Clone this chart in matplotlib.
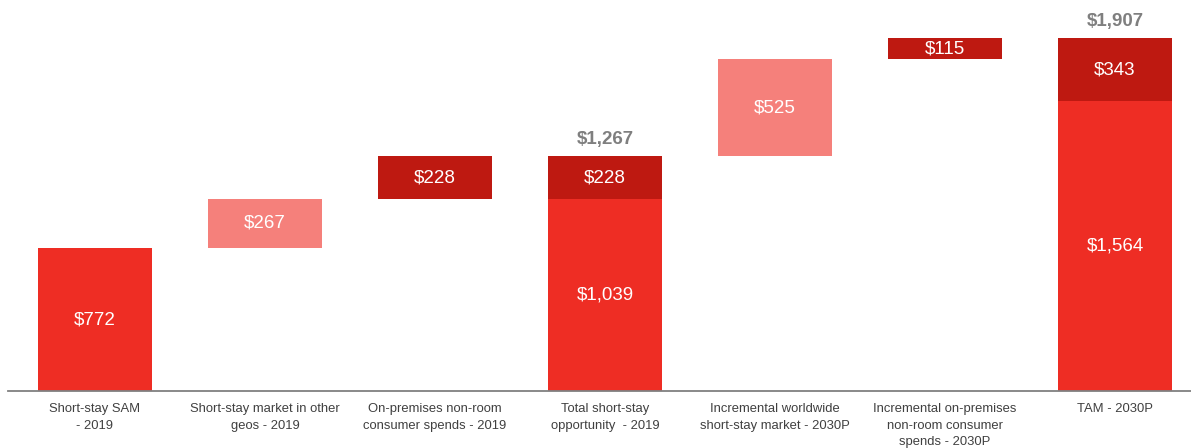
import numpy as np
import matplotlib.pyplot as plt
from matplotlib.lines import Line2D

plt.rcParams['font.family'] = ['Liberation Sans', 'DejaVu Sans']

categories = ['Short-stay SAM\n- 2019',
              'Short-stay market in other\ngeos - 2019',
              'On-premises non-room\nconsumer spends - 2019',
              'Total short-stay\nopportunity  - 2019',
              'Incremental worldwide\nshort-stay market - 2030P',
              'Incremental on-premises\nnon-room consumer\nspends - 2030P',
              'TAM - 2030P']
# waterfall steps
sam_2019 = 772
other_geos = 267
onprem_2019 = 228
incr_world = 525
onprem_2030 = 115
# stacked totals
total_2019 = [1039, 228]
tam_2030 = [1564, 343]

red = '#EE2D24'
dark = '#BE1911'
light = '#F5807B'

fig = plt.figure(figsize=(11.91, 4.48), dpi=100)
ax = fig.add_axes([0, 57 / 448, 1, 391 / 448])

w = 114 / 170
x = np.arange(len(categories))

bottoms = [0, sam_2019, sam_2019 + other_geos, 0,
           sum(total_2019), sum(total_2019) + incr_world, 0]
heights = [sam_2019, other_geos, onprem_2019, total_2019[0],
           incr_world, onprem_2030, tam_2030[0]]
colors = [red, light, dark, red, light, dark, red]
ax.bar(x, heights, bottom=bottoms, width=w, color=colors, edgecolor='none')
# top segments of total bars
ax.bar([3, 6], [total_2019[1], tam_2030[1]], bottom=[total_2019[0], tam_2030[0]],
       width=w, color=dark, edgecolor='none')

def money(v):
    return '${:,}'.format(v)

for xi, b, h in zip(x, bottoms, heights):
    ax.text(xi, b + h / 2, money(h), ha='center', va='center', color='white', fontsize=13.5)
for xi, seg in [(3, total_2019), (6, tam_2030)]:
    ax.text(xi, seg[0] + seg[1] / 2, money(seg[1]), ha='center', va='center',
            color='white', fontsize=13.5)
    ax.annotate(money(sum(seg)), (xi, sum(seg)), xytext=(0, 6), textcoords='offset points',
                ha='center', va='bottom', color='#7F7F7F', fontsize=13.5, fontweight='bold')

for xi, c in zip(x, categories):
    ax.text(xi, -12 / 391, c, ha='center', va='top', color='#404040', fontsize=9.4,
            linespacing=1.5, transform=ax.get_xaxis_transform())

ax.add_line(Line2D([8 / 1191, 1], [0, 0], transform=ax.transAxes, color='#808080',
                   lw=1.3, clip_on=False))

ax.set_xlim(-95 / 170, (1191 - 95) / 170)
ax.set_ylim(0, 391 / (353 / 1907))
ax.axis('off')

fig.savefig('out.png', dpi=100)
